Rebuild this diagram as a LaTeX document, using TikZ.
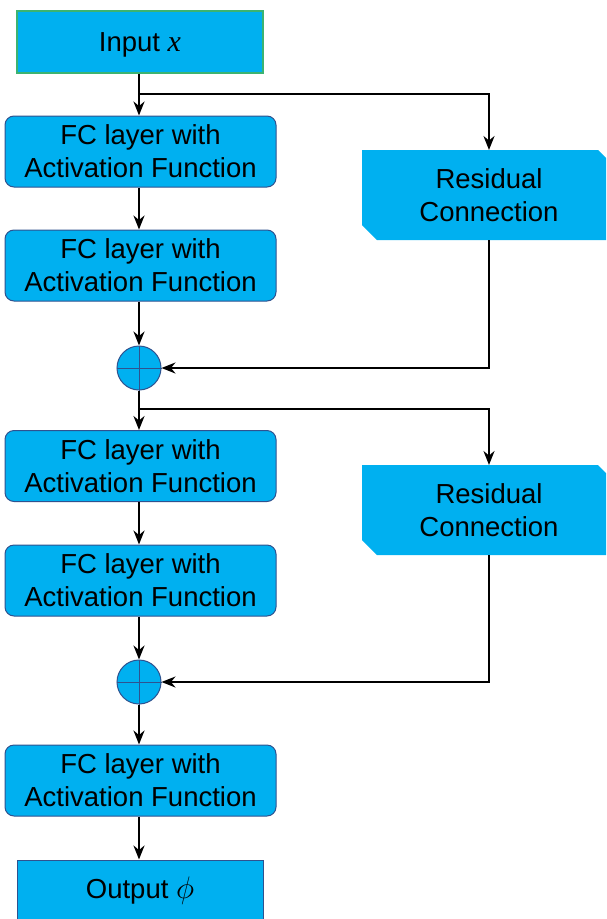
\documentclass[tikz,border=0pt]{standalone}
\usepackage{fontspec}
\setmainfont{Liberation Sans}
\newfontfamily\serifit{Liberation Serif}
\usetikzlibrary{arrows.meta,calc}
\definecolor{boxfill}{HTML}{00B0F0}
\definecolor{boxline}{HTML}{2F528F}
\definecolor{inline}{HTML}{3CB371}
\begin{document}
\begin{tikzpicture}[x=1pt,y=-1pt,
  fcbox/.style={draw=boxline,line width=1pt,fill=boxfill,rounded corners=9pt,minimum width=271pt,minimum height=71pt,align=center,font=\fontsize{27.5}{33}\selectfont,inner sep=0pt},
  iobox/.style={draw=boxline,line width=1pt,fill=boxfill,minimum width=246pt,minimum height=62pt,align=center,font=\fontsize{27.5}{33}\selectfont,inner sep=0pt},
  sumc/.style={draw=boxline,line width=1pt,fill=boxfill,circle,minimum size=44pt,inner sep=0pt},
  conn/.style={line width=2pt,-{Stealth[length=14pt,width=11pt]}},
  rtext/.style={font=\fontsize{27.5}{33}\selectfont,align=center}]
\useasboundingbox (0,0) rectangle (606,919);
% input
\node[iobox,draw=inline,line width=1.3pt] (in) at (140,42) {};
\node[rtext] (int) at (140,45) {Input {\serifit\itshape\fontsize{30}{33}\selectfont x}};
\node[fcbox] (f1) at (140.5,151.5) {FC layer with\\Activation Function};
\node[fcbox] (f2) at (140.5,265.5) {FC layer with\\Activation Function};
\node[sumc] (s1) at (139,368) {};
\node[fcbox] (f3) at (140.5,466) {FC layer with\\Activation Function};
\node[fcbox] (f4) at (140.5,580.5) {FC layer with\\Activation Function};
\node[sumc] (s2) at (139,682) {};
\node[fcbox] (f5) at (140.5,780.5) {FC layer with\\Activation Function};
\node[iobox,minimum height=80pt] (out) at (140,900) {};
\node[rtext] (outt) at (140,891) {Output \scalebox{1.25}{$\phi$}};
% plus signs in circles
\foreach \s in {s1,s2}{
  \draw[boxline,line width=1pt] (\s.north) -- (\s.south);
  \draw[boxline,line width=1pt] (\s.west) -- (\s.east);
}
% residual boxes
\fill[boxfill] (362,150) -- (598,150) -- (606,158) -- (606,240) -- (377,240) -- (362,225) -- cycle;
\node[rtext] (r1) at (489,195) {Residual\\Connection};
\fill[boxfill] (362,465) -- (598,465) -- (606,473) -- (606,555) -- (377,555) -- (362,540) -- cycle;
\node[rtext] (r2) at (489,510) {Residual\\Connection};
\coordinate (r1t) at (489,150);
\coordinate (r1b) at (489,240);
\coordinate (r2t) at (489,465);
\coordinate (r2b) at (489,555);
% main column
\coordinate (b1) at (139,94);
\coordinate (b2) at (139,409);
\draw[conn] (in.south -| s1) -- (f1.north -| s1);
\draw[conn] (f1.south -| s1) -- (f2.north -| s1);
\draw[conn] (f2.south -| s1) -- (s1.north);
\draw[conn] (s1.south) -- (f3.north -| s1);
\draw[conn] (f3.south -| s1) -- (f4.north -| s1);
\draw[conn] (f4.south -| s1) -- (s2.north);
\draw[conn] (s2.south) -- (f5.north -| s1);
\draw[conn] (f5.south -| s1) -- (out.north -| s1);
% branches
\draw[conn] (b1) -- (489,94) -- (r1t);
\draw[conn] (r1b) |- (s1.east);
\draw[conn] (b2) -- (489,409) -- (r2t);
\draw[conn] (r2b) |- (s2.east);
\end{tikzpicture}
\end{document}
